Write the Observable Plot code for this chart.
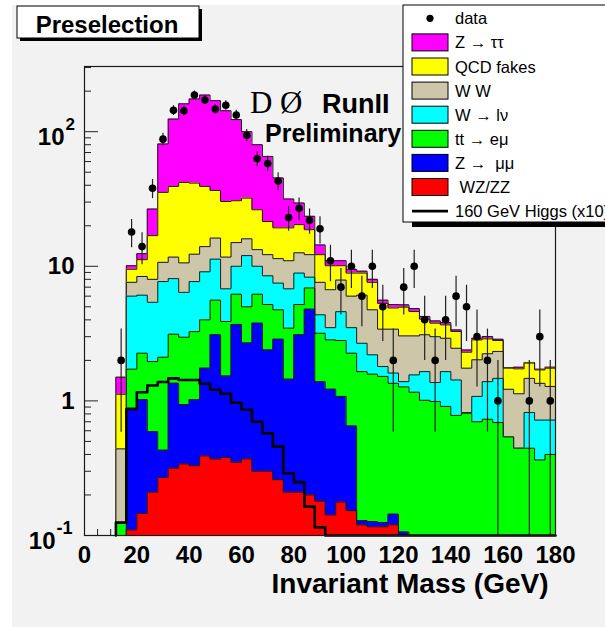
<!DOCTYPE html>
<html><head><meta charset="utf-8">
<script src="https://cdn.jsdelivr.net/npm/d3@7"></script>
<script src="https://cdn.jsdelivr.net/npm/@observablehq/plot@0.6"></script>
<style>
body{margin:0;background:#fff;}
svg{display:block;}
</style>
</head><body><div id="chart"></div>
<script>
// ---- bins (GeV): lower edges of 4-GeV bins ----
const binLow = [12,16,20,24,28,32,36,40,44,48,52,56,60,64,68,72,76,80,84,88,92,96,100,104,108,112,116,120,124,128,132,136,140,144,148,152,156,160,164,168,172,176];
const BIN_WIDTH = 4;

// ---- data (event counts per bin) ----
const dataCounts = [2,18,14,38,88,144,143,187,172,147,157,133,94,63,58,43,23,27,22,19,11,7,10,6,10,5,2,7,10,4,2,4,6,5,3,2,1,0,0,1,3,1];

// ---- stacked MC: cumulative top of each layer ----
const topWZZZ    = [0,0.11,0.146,0.21,0.27,0.316,0.34,0.33,0.39,0.37,0.38,0.35,0.37,0.30,0.30,0.26,0.21,0.21,0.20,0.18,0.142,0.177,0.153,0.12,0.116,0.116,0.12,0,0,0,0,0,0,0,0,0,0,0,0,0,0,0];
const topZmumu   = [0,0.88,1.02,0.59,0.43,1.35,0.94,1.02,1.75,3.1,1.53,3.7,2.69,3.78,2.39,2.87,1.45,3.1,4.8,1.39,1.22,1.08,0.65,0.129,0.127,0.125,0.144,0.106,0,0,0,0,0,0,0,0,0,0,0,0,0,0];
const topTTemu   = [0.123,1.72,2.26,1.96,2.11,3.13,2.97,3.27,4.0,5.6,3.89,6.2,5.0,6.2,5.2,4.75,3.47,5.2,6.9,3.18,2.84,2.81,2.26,1.65,1.58,1.52,1.35,1.27,1.16,1.01,0.99,0.91,0.78,0.81,0.70,0.73,0.69,0.54,0.445,0.445,0.364,0.40];
const topWlnu    = [0.123,6.0,6.1,5.4,7.7,8.1,6.4,7.7,9.1,11.3,6.8,10.0,12.0,10.0,8.5,7.5,6.8,8.9,8.3,4.36,3.5,4.6,3.5,2.68,2.2,1.80,1.61,1.39,1.56,1.65,1.37,1.65,1.43,0.82,1.08,1.39,1.47,0.54,0.445,0.82,0.72,0.72];
const topWW      = [0.44,7.6,8.4,8.0,10.7,11.7,10.6,12.3,14.0,16.2,11.7,15.0,16.0,13.3,12.2,11.4,11.0,12.6,12.2,7.6,6.7,7.9,6.0,6.1,4.75,3.41,3.41,3.04,3.04,3.1,3.0,2.92,2.46,1.75,2.02,2.24,2.33,1.22,1.13,1.47,1.35,1.28];
const topQCD     = [1.12,9.5,11.2,16.9,35.4,39.2,42,41.5,39.2,36.6,30.3,30.7,32.1,26.3,21.5,19.3,19.3,20.4,18.7,12.2,10.1,10.1,8.9,8.9,7.6,5.3,4.9,4.97,4.61,4.05,3.78,3.67,3.28,2.30,2.84,2.89,2.81,1.75,1.73,1.91,1.70,1.75];
const topZtautau = [1.5,10.1,12.4,26.6,81,124,161,175,187,170,143,123,100,80,65.5,45.3,31.6,29.5,23.5,14.4,11.0,11.0,9.5,9.2,8.0,5.6,5.2,5.17,4.85,4.24,3.93,3.82,3.37,2.39,2.92,3.01,2.87,1.77,1.78,1.93,1.72,1.78];

// ---- 160 GeV Higgs (x10) ----
const higgs = [0.125,0.87,1.16,1.30,1.38,1.47,1.43,1.43,1.34,1.21,1.13,0.97,0.86,0.70,0.575,0.457,0.29,0.249,0.164,0.115,0,0,0,0,0,0,0,0,0,0,0,0,0,0,0,0,0,0,0,0,0,0];

// ---- axis ticks ----
const xMajor = [0,20,40,60,80,100,120,140,160,180];
const xMinor = [5,10,15,25,30,35,45,50,55,65,70,75,85,90,95,105,110,115,125,130,135,145,150,155,165,170,175];
const yMajor = [0.1,1,10,100];
const yMinor = [0.2,0.3,0.4,0.5,0.6,0.7,0.8,0.9,2,3,4,5,6,7,8,9,20,30,40,50,60,70,80,90,200,300];

const TAN = "#cdc6a8";
const layers = [
  {label: "Z → ττ", color: "#ff00ff", tops: topZtautau},
  {label: "QCD fakes", color: "#ffff00", tops: topQCD},
  {label: "W W", color: TAN, tops: topWW},
  {label: "W → lν", color: "#00ffff", tops: topWlnu},
  {label: "tt → eμ", color: "#00ff00", tops: topTTemu},
  {label: "Z →  μμ", color: "#0000ff", tops: topZmumu},
  {label: " WZ/ZZ", color: "#ff0000", tops: topWZZZ}
];

const FLOOR = 0.1;
function stepPoints(vals) {
  const pts = [{x: binLow[0], y: FLOOR}];
  vals.forEach((v, i) => {
    const y = Math.max(v, FLOOR);
    pts.push({x: binLow[i], y}, {x: binLow[i] + BIN_WIDTH, y});
  });
  pts.push({x: binLow[binLow.length - 1] + BIN_WIDTH, y: FLOOR});
  return pts;
}

const dataPts = binLow.map((lo, i) => ({x: lo + BIN_WIDTH / 2, n: dataCounts[i]})).filter(d => d.n > 0);

const histMarks = layers.flatMap(l => {
  const pts = stepPoints(l.tops);
  return [
    Plot.areaY(pts, {x: "x", y1: FLOOR, y2: "y", fill: l.color}),
    Plot.line(pts, {x: "x", y: "y", stroke: "#1a1a1a", strokeWidth: 1})
  ];
});

const yLab = (v, txt, o) => Plot.text([v], {y: d => d, text: () => txt, frameAnchor: "left", textAnchor: "end", fontSize: 24, fontWeight: "bold", fill: "#000", ...o});

const chart = Plot.plot({
  width: 605, height: 627,
  marginLeft: 84, marginRight: 50, marginTop: 66, marginBottom: 92,
  style: {background: "transparent", fontFamily: "'Liberation Sans', Arial, Helvetica, sans-serif", color: "#000"},
  x: {domain: [0, 180]},
  y: {type: "log", domain: [0.1, 305]},
  marks: [
    Plot.axisX({ticks: xMinor, tickSize: -6, fill: "none", stroke: "#222", label: null}),
    Plot.axisX({ticks: xMajor, tickSize: -12, fill: "none", stroke: "#222", label: null}),
    Plot.axisY({ticks: yMinor, tickSize: -7, fill: "none", stroke: "#222", label: null}),
    Plot.axisY({ticks: yMajor, tickSize: -14, fill: "none", stroke: "#222", label: null}),
    ...histMarks,
    Plot.line(stepPoints(higgs), {x: "x", y: "y", stroke: "#000", strokeWidth: 2.6}),
    Plot.ruleX(dataPts, {x: "x", y1: d => Math.max(d.n - Math.sqrt(d.n), FLOOR), y2: d => d.n + Math.sqrt(d.n), stroke: "#222", strokeWidth: 1.2}),
    Plot.dot(dataPts, {x: "x", y: "n", r: 3.8, fill: "#000", stroke: "none"}),
    Plot.frame({stroke: "#1a1a1a", strokeWidth: 1.2}),
    Plot.axisX({ticks: xMajor, tickSize: 0, tickPadding: 10, fontSize: 24, fontWeight: "bold", fill: "#000", label: null}),
    yLab(100, "10", {dx: -20, dy: 6}),
    yLab(100, "2", {dx: -19, dy: -7, fontSize: 17, textAnchor: "start"}),
    yLab(10, "10", {dx: -10}),
    yLab(1, "1", {dx: -10}),
    yLab(0.1, "10", {dx: -29, dy: 6}),
    yLab(0.1, "-1", {dx: -28, dy: -7, fontSize: 18, textAnchor: "start"}),
    Plot.text(["Invariant Mass (GeV)"], {frameAnchor: "bottom-right", text: d => d, textAnchor: "end", dx: -7, dy: 57, fontSize: 28, fontWeight: "bold", fill: "#000"})
  ]
});

const svg = d3.select(chart);
svg.insert("rect", ":first-child").attr("x", 12).attr("y", 5).attr("width", 600).attr("height", 630).attr("fill", "#f2f2f2");

// title box
const tg = svg.append("g");
tg.append("rect").attr("x", 20).attr("y", 9).attr("width", 182).attr("height", 32).attr("fill", "#000");
tg.append("rect").attr("x", 17).attr("y", 6).attr("width", 182).attr("height", 32).attr("fill", "#fff").attr("stroke", "#000").attr("stroke-width", 1);
tg.append("text").attr("x", 107).attr("y", 33).attr("text-anchor", "middle").attr("font-size", 24).attr("font-weight", "bold").attr("fill", "#000").text("Preselection");

// D0 label
const dg = svg.append("g").attr("fill", "#000");
dg.append("text").attr("x", 250).attr("y", 113).attr("text-anchor", "start").attr("font-family", "'Liberation Serif', 'DejaVu Serif', serif").attr("font-size", 31).text("D");
dg.append("text").attr("x", 280).attr("y", 113).attr("text-anchor", "start").attr("font-family", "'Liberation Serif', 'DejaVu Serif', serif").attr("font-size", 31).text("Ø");
dg.append("text").attr("x", 322).attr("y", 113).attr("text-anchor", "start").attr("font-size", 27).attr("font-weight", "bold").text("RunII");
dg.append("text").attr("x", 265).attr("y", 141.5).attr("text-anchor", "start").attr("font-size", 25).attr("font-weight", "bold").text("Preliminary");

// legend
const lg = svg.append("g");
lg.append("rect").attr("x", 412).attr("y", 222).attr("width", 200).attr("height", 5).attr("fill", "#000");
lg.append("rect").attr("x", 403).attr("y", 5).attr("width", 210).attr("height", 217).attr("fill", "#fff").attr("stroke", "#000").attr("stroke-width", 1);
const legendRows = [{label: "data", kind: "dot"}, ...layers.map(l => ({label: l.label, kind: "box", color: l.color})), {label: "160 GeV Higgs (x10)", kind: "line"}];
legendRows.forEach((r, i) => {
  const cy = 18.3 + i * 24.1;
  if (r.kind === "dot") lg.append("circle").attr("cx", 430).attr("cy", cy).attr("r", 3.6).attr("fill", "#000");
  else if (r.kind === "box") lg.append("rect").attr("x", 412).attr("y", cy - 8.5).attr("width", 36).attr("height", 17).attr("fill", r.color).attr("stroke", "#000").attr("stroke-width", 1);
  else lg.append("line").attr("x1", 412).attr("x2", 448).attr("y1", cy).attr("y2", cy).attr("stroke", "#000").attr("stroke-width", 2.6);
  lg.append("text").attr("x", 455).attr("y", cy + 6).attr("text-anchor", "start").attr("font-size", 16.5).attr("fill", "#000").style("white-space", "pre").text(r.label);
});

document.getElementById("chart").appendChild(chart);
</script>
</body></html>
